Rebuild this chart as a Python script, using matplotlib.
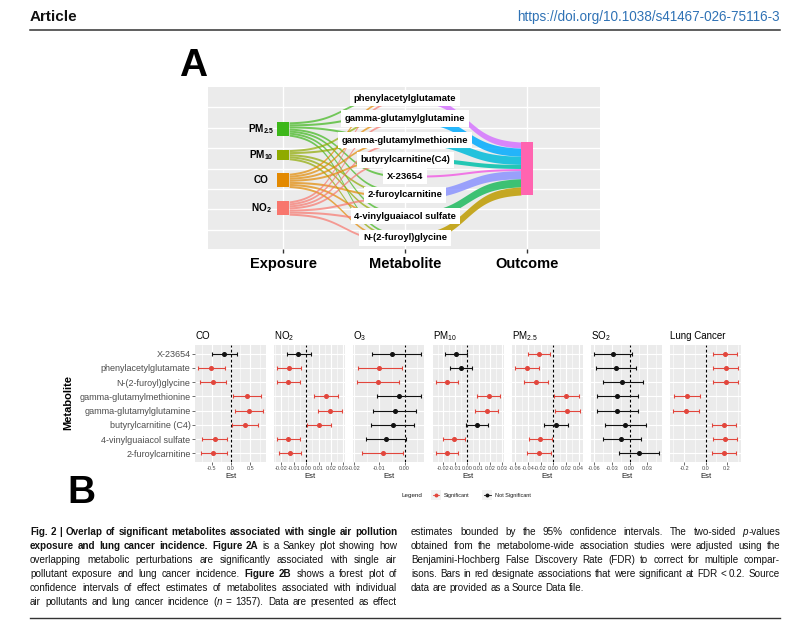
import numpy as np
import matplotlib
matplotlib.use('Agg')
import matplotlib.pyplot as plt
from matplotlib.patches import Rectangle
from matplotlib.lines import Line2D

plt.rcParams['font.family'] = ['Liberation Sans', 'DejaVu Sans']
plt.rcParams['mathtext.fontset'] = 'custom'
plt.rcParams['mathtext.rm'] = 'Liberation Sans'
plt.rcParams['mathtext.it'] = 'Liberation Sans:italic'
plt.rcParams['mathtext.bf'] = 'Liberation Sans:bold'

W, H = 800, 632

# forest plot rows, top to bottom
metabolites = ['X-23654', 'phenylacetylglutamate', 'N-(2-furoyl)glycine',
               'gamma-glutamylmethionine', 'gamma-glutamylglutamine',
               'butyrylcarnitine (C4)', '4-vinylguaiacol sulfate', '2-furoylcarnitine']

panels = ['CO', 'NO2', 'O3', 'PM10', 'PM2.5', 'SO2', 'Lung Cancer']
titles = ['CO', 'NO$_2$', 'O$_3$', 'PM$_{10}$', 'PM$_{2.5}$', 'SO$_2$', 'Lung Cancer']

est_co = [-0.18, -0.51, -0.47, 0.43, 0.47, 0.36, -0.42, -0.46]
lo_co = [-0.50, -0.85, -0.80, 0.06, 0.12, 0.02, -0.75, -0.78]
hi_co = [0.17, -0.155, -0.14, 0.79, 0.83, 0.71, -0.09, -0.11]
sig_co = [0, 1, 1, 1, 1, 1, 1, 1]

est_no2 = [-0.0062, -0.0138, -0.0143, 0.0160, 0.0192, 0.0105, -0.0146, -0.0130]
lo_no2 = [-0.0151, -0.0232, -0.0232, 0.0065, 0.0095, 0.0005, -0.0232, -0.0222]
hi_no2 = [0.0035, -0.0038, -0.0049, 0.0260, 0.0289, 0.0203, -0.0051, -0.0038]
sig_no2 = [0, 1, 1, 1, 1, 1, 1, 1]

est_o3 = [-0.0051, -0.0100, -0.0106, -0.0022, -0.0040, -0.0048, -0.0074, -0.0087]
lo_o3 = [-0.0130, -0.0186, -0.0191, -0.0109, -0.0125, -0.0132, -0.0155, -0.0169]
hi_o3 = [0.0066, -0.0012, -0.0022, 0.0064, 0.0045, 0.0036, 0.0006, -0.0005]
sig_o3 = [0, 1, 1, 0, 0, 0, 0, 1]

est_pm10 = [-0.0090, -0.0051, -0.0169, 0.0186, 0.0169, 0.0085, -0.0113, -0.0169]
lo_pm10 = [-0.0183, -0.0146, -0.0265, 0.0090, 0.0073, -0.0011, -0.0203, -0.0265]
hi_pm10 = [0.0000, 0.0045, -0.0073, 0.0285, 0.0265, 0.0180, -0.0017, -0.0073]
sig_pm10 = [0, 0, 1, 1, 1, 0, 1, 1]

est_pm25 = [-0.0223, -0.0416, -0.0270, 0.0203, 0.0218, 0.0036, -0.0208, -0.0223]
lo_pm25 = [-0.0400, -0.0603, -0.0457, 0.0010, 0.0031, -0.0145, -0.0390, -0.0410]
hi_pm25 = [-0.0047, -0.0229, -0.0088, 0.0405, 0.0416, 0.0229, -0.0026, -0.0042]
sig_pm25 = [1, 1, 1, 1, 1, 0, 1, 1]

est_so2 = [-0.0279, -0.0235, -0.0123, -0.0207, -0.0212, -0.0078, -0.0140, 0.0156]
lo_so2 = [-0.0598, -0.0575, -0.0453, -0.0547, -0.0547, -0.0413, -0.0458, -0.0179]
hi_so2 = [0.0045, 0.0112, 0.0218, 0.0140, 0.0134, 0.0268, 0.0190, 0.0492]
sig_so2 = [0, 0, 0, 0, 0, 0, 0, 0]

est_lung = [0.184, 0.1875, 0.1875, -0.169, -0.181, 0.172, 0.184, 0.175]
lo_lung = [0.069, 0.066, 0.072, -0.290, -0.300, 0.056, 0.069, 0.059]
hi_lung = [0.294, 0.303, 0.303, -0.050, -0.0625, 0.288, 0.297, 0.288]
sig_lung = [1, 1, 1, 1, 1, 1, 1, 1]

ticks_co = [-0.5, 0.0, 0.5]
ticks_no2 = [-0.02, -0.01, 0.0, 0.01, 0.02, 0.03]
ticks_o3 = [-0.02, -0.01, 0.0]
ticks_pm10 = [-0.02, -0.01, 0.0, 0.01, 0.02, 0.03]
ticks_pm25 = [-0.06, -0.04, -0.02, 0.0, 0.02, 0.04]
ticks_so2 = [-0.06, -0.03, 0.0, 0.03]
ticks_lung = [-0.2, 0.0, 0.2]
tick_decimals = [1, 2, 2, 2, 2, 2, 1]

est_all = [est_co, est_no2, est_o3, est_pm10, est_pm25, est_so2, est_lung]
lo_all = [lo_co, lo_no2, lo_o3, lo_pm10, lo_pm25, lo_so2, lo_lung]
hi_all = [hi_co, hi_no2, hi_o3, hi_pm10, hi_pm25, hi_so2, hi_lung]
sig_all = [sig_co, sig_no2, sig_o3, sig_pm10, sig_pm25, sig_so2, sig_lung]
ticks_all = [ticks_co, ticks_no2, ticks_o3, ticks_pm10, ticks_pm25, ticks_so2, ticks_lung]

# sankey: exposures and metabolite order (indices into metabolites)
sankey_exposures = ['PM2.5', 'PM10', 'CO', 'NO2']
sankey_exp_labels = [r'$\mathbf{PM_{2.5}}$', r'$\mathbf{PM_{10}}$', 'CO', r'$\mathbf{NO_2}$']
sankey_order = [1, 4, 3, 5, 0, 7, 6, 2]
exp_colors = ['#3DB71A', '#8FAA00', '#E38900', '#F8766D']
met_colors = ['#D575FE', '#00ABFD', '#00BBDA', '#00C1AB', '#F162E4', '#8B93FF', '#1FBA5E', '#BE9C00']
outcome_color = '#FF64B0'
stages = ['Exposure', 'Metabolite', 'Outcome']

caption_left = [
    '**Fig. 2 | Overlap of significant metabolites associated with single air pollution**',
    '**exposure and lung cancer incidence. Figure 2A** is a Sankey plot showing how',
    'overlapping metabolic perturbations are significantly associated with single air',
    'pollutant exposure and lung cancer incidence. **Figure 2B** shows a forest plot of',
    'confidence intervals of effect estimates of metabolites associated with individual',
    'air pollutants and lung cancer incidence (_n_ = 1357). Data are presented as effect',
]
caption_right = [
    'estimates bounded by the 95% confidence intervals. The two-sided _p_-values',
    'obtained from the metabolome-wide association studies were adjusted using the',
    'Benjamini-Hochberg False Discovery Rate (FDR) to correct for multiple compar-',
    'isons. Bars in red designate associations that were significant at FDR < 0.2. Source',
    'data are provided as a Source Data file.',
]

RED = '#E2463C'
BLACK = '#111111'


def px(x, y):
    return x / W, 1 - y / H


fig = plt.figure(figsize=(W / 100, H / 100), dpi=100)
renderer = fig.canvas.get_renderer()

# ---------------- header ----------------
fig.text(*px(30, 21), 'Article', fontsize=11, fontweight='bold', va='baseline', color='#111111')
url = fig.text(*px(780, 21), 'https://doi.org/10.1038/s41467-026-75116-3', fontsize=10,
               va='baseline', ha='right', color='#2F72B5')
url.set_fontsize(10 * 263 / url.get_window_extent(renderer).width)
fig.add_artist(Line2D([30 / W, 780 / W], [1 - 30 / H, 1 - 30 / H], color='#333333', lw=1.1))
fig.text(*px(179, 76), 'A', fontsize=28, fontweight='bold', va='baseline')
fig.text(*px(67, 503), 'B', fontsize=28, fontweight='bold', va='baseline')

# ---------------- sankey ----------------
ax_s = fig.add_axes([208 / W, 1 - 249 / H, 392 / W, 162 / H])
ax_s.set_facecolor('#EBEBEB')
ax_s.set_xlim(0.385, 3.598)
ax_s.set_ylim(-39.5, 40)
for sp in ax_s.spines.values():
    sp.set_visible(False)
for gy in range(-30, 31, 10):
    ax_s.axhline(gy, color='white', lw=1.0, zorder=0)
for gx in [1, 2, 3]:
    ax_s.axvline(gx, color='white', lw=1.0, zorder=0)
ax_s.set_yticks([])
ax_s.set_xticks([1, 2, 3])
ax_s.set_xticklabels(stages, fontsize=10.5, fontweight='bold')
ax_s.tick_params(axis='x', length=3, width=1, color='#333333', pad=3)

links = []
for ei, e in enumerate(sankey_exposures):
    sig_e = sig_all[panels.index(e)]
    for mi, m in enumerate(sankey_order):
        if sig_e[m]:
            links.append((ei, mi))

exp_h = [sum(1 for l in links if l[0] == i) for i in range(len(sankey_exposures))]
met_h = [sum(1 for l in links if l[1] == j) for j in range(len(sankey_order))]
space = 6.6


def stack(heights):
    total = sum(heights) + space * (len(heights) - 1)
    tops = []
    t = total / 2
    for h in heights:
        tops.append(t)
        t -= h + space
    return tops


exp_top = stack(exp_h)
met_top = stack(met_h)
out_top = stack([len(links)])[0]


def band(x0, x1, t0, b0, t1, b1, color, alpha):
    s = np.linspace(0, 1, 80)
    k = 1 / (1 + np.exp(-8 * (s - 0.5)))
    k = (k - k[0]) / (k[-1] - k[0])
    xs = x0 + (x1 - x0) * s
    ax_s.fill_between(xs, b0 + (b1 - b0) * k, t0 + (t1 - t0) * k, color=color,
                      alpha=alpha, lw=0, zorder=2)


nw = 0.05
# slot of each link: leaving the exposure (by metabolite order),
# arriving at the metabolite (by exposure order)
slots = {}
exp_cursor = list(exp_top)
for ei in range(len(sankey_exposures)):
    for mi in range(len(sankey_order)):
        if (ei, mi) in links:
            slots[(ei, mi)] = [exp_cursor[ei], None]
            exp_cursor[ei] -= 1
met_cursor = list(met_top)
for mi in range(len(sankey_order)):
    for ei in range(len(sankey_exposures)):
        if (ei, mi) in links:
            slots[(ei, mi)][1] = met_cursor[mi]
            met_cursor[mi] -= 1
for (ei, mi), (t0, t1) in slots.items():
    band(1 + nw, 2 - nw, t0, t0 - 1, t1, t1 - 1, exp_colors[ei], 0.7)

# metabolite -> outcome flows
oc = out_top
for mi in range(len(sankey_order)):
    h = met_h[mi]
    band(2 + nw, 3 - nw, met_top[mi], met_top[mi] - h, oc, oc - h, met_colors[mi], 0.85)
    oc -= h

# nodes
for ei in range(len(sankey_exposures)):
    ax_s.add_patch(Rectangle((1 - nw, exp_top[ei] - exp_h[ei]), 2 * nw, exp_h[ei],
                             fc=exp_colors[ei], ec='none', zorder=3))
    ax_s.text(0.82, exp_top[ei] - exp_h[ei] / 2, sankey_exp_labels[ei], ha='center',
              va='center', fontsize=7.2, fontweight='bold', zorder=5)
for mi in range(len(sankey_order)):
    ax_s.add_patch(Rectangle((2 - nw, met_top[mi] - met_h[mi]), 2 * nw, met_h[mi],
                             fc=met_colors[mi], ec='none', zorder=3))
    name = metabolites[sankey_order[mi]].replace(' (', '(')
    ax_s.text(2, met_top[mi] - met_h[mi] / 2, name, ha='center', va='center',
              fontsize=6.8, fontweight='bold', zorder=5,
              bbox=dict(boxstyle='square,pad=0.38', fc='white', ec='none'))
ax_s.add_patch(Rectangle((3 - nw, out_top - len(links)), 2 * nw, len(links),
                         fc=outcome_color, ec='none', zorder=3))

# ---------------- forest plots ----------------
left0, pitch, pw = 195, 79.2, 71
ptop, pbot = 345, 462
n = len(metabolites)
ypos = np.arange(n, 0, -1)

for i in range(len(panels)):
    ax = fig.add_axes([(left0 + i * pitch) / W, 1 - pbot / H, pw / W, (pbot - ptop) / H])
    ax.set_facecolor('#EBEBEB')
    for sp in ax.spines.values():
        sp.set_visible(False)
    est = np.array(est_all[i])
    lo = np.array(lo_all[i])
    hi = np.array(hi_all[i])
    sig = np.array(sig_all[i])
    rng = max(hi.max(), 0) - min(lo.min(), 0)
    xmin = min(lo.min(), 0) - 0.05 * rng
    xmax = max(hi.max(), 0) + 0.05 * rng
    ax.set_xlim(xmin, xmax)
    ax.set_ylim(0.4, n + 0.6)

    ticks = ticks_all[i]
    step = ticks[1] - ticks[0]
    minor = [t - step / 2 for t in ticks] + [ticks[-1] + step / 2]
    ax.set_xticks(ticks)
    ax.set_xticklabels([f'{t:.{tick_decimals[i]}f}' for t in ticks])
    ax.set_xticks([m for m in minor if xmin < m < xmax], minor=True)
    ax.set_yticks(ypos)
    ax.grid(which='major', color='white', lw=0.8)
    ax.grid(which='minor', axis='x', color='white', lw=0.4)
    ax.set_axisbelow(True)
    ax.tick_params(axis='x', which='major', labelsize=4, labelcolor='#4D4D4D',
                   color='#333333', length=2, width=0.5, pad=0.8)
    ax.tick_params(axis='x', which='minor', length=0)
    if i == 0:
        ax.set_yticklabels(metabolites)
        ax.tick_params(axis='y', labelsize=6.5, labelcolor='#4D4D4D', color='#333333',
                       length=2, width=0.5, pad=1.2)
    else:
        ax.tick_params(axis='y', labelleft=False, length=0)

    ax.axvline(0, color='black', lw=0.8, ls=(0, (2.5, 2)), zorder=2)
    for flag, col in [(1, RED), (0, BLACK)]:
        m = sig == flag
        if m.any():
            ax.errorbar(est[m], ypos[m], xerr=[est[m] - lo[m], hi[m] - est[m]], fmt='o',
                        color=col, ms=2.6, elinewidth=0.8, capsize=1.6, capthick=0.8,
                        zorder=3)
    ax.set_xlabel('Est', fontsize=5.5, labelpad=1.2, color='#1A1A1A')
    ax.set_title(titles[i], loc='left', fontsize=7, pad=4)

fig.text(*px(68, 402), 'Metabolite', rotation=90, fontsize=8, fontweight='bold',
         ha='center', va='center')

# legend
fig.text(*px(401, 495), 'Legend', fontsize=4.5, va='center', color='#1A1A1A')
for kx, col, lab in [(431, RED, 'Significant'), (482, BLACK, 'Not Significant')]:
    fig.add_artist(Rectangle(px(kx, 500), 10 / W, 10 / H, fc='#F2F2F2', ec='none',
                             transform=fig.transFigure))
    yy = 1 - 495 / H
    fig.add_artist(Line2D([(kx + 1.5) / W, (kx + 8.5) / W], [yy, yy], color=col, lw=0.6))
    fig.add_artist(Line2D([(kx + 5) / W], [yy], marker='o', ms=1.8, color=col))
    fig.text(*px(kx + 13, 495), lab, fontsize=4, va='center', color='#1A1A1A')

# ---------------- caption ----------------
STYLE = {'n': {}, 'b': {'fontweight': 'bold'}, 'i': {'fontstyle': 'italic'}}


def parse(line):
    chars = []
    bold = ital = False
    i = 0
    while i < len(line):
        if line.startswith('**', i):
            bold = not bold
            i += 2
            continue
        if line[i] == '_':
            ital = not ital
            i += 1
            continue
        chars.append((line[i], 'b' if bold else ('i' if ital else 'n')))
        i += 1
    words, cur = [], []
    for ch, st in chars:
        if ch == ' ':
            if cur:
                words.append(cur)
                cur = []
        elif cur and cur[-1][1] == st:
            cur[-1] = (cur[-1][0] + ch, st)
        else:
            cur.append((ch, st))
    if cur:
        words.append(cur)
    return words


def run_width(txt, st, fs):
    t = fig.text(0, 0, txt, fontsize=fs, **STYLE[st])
    w = t.get_window_extent(renderer).width
    t.remove()
    return w


def space_width(fs):
    return run_width('a a', 'n', fs) - run_width('aa', 'n', fs)


def natural_width(line, fs):
    words = parse(line)
    ww = sum(run_width(r, s, fs) for w in words for r, s in w)
    return ww + space_width(fs) * (len(words) - 1)


col_w = 367
fs0 = 10
cap_fs = fs0 * min(col_w / natural_width(l, fs0) for l in caption_left + caption_right[:-1])


def draw_line(line, x0, y, width, justify):
    words = parse(line)
    widths = [[run_width(r, s, cap_fs) for r, s in w] for w in words]
    total = sum(sum(w) for w in widths)
    gap = (width - total) / (len(words) - 1) if justify else space_width(cap_fs)
    x = x0
    for w, wl in zip(words, widths):
        for (r, s), rw in zip(w, wl):
            fig.text(*px(x, y), r, fontsize=cap_fs, va='baseline', color='#111111', **STYLE[s])
            x += rw
        x += gap


for k, line in enumerate(caption_left):
    draw_line(line, 30, 535 + 14 * k, col_w, True)
for k, line in enumerate(caption_right):
    draw_line(line, 411, 535 + 14 * k, 369, k < len(caption_right) - 1)

fig.add_artist(Line2D([30 / W, 780 / W], [1 - 618 / H, 1 - 618 / H], color='#333333', lw=1.0))

fig.savefig('out.png', dpi=100)
